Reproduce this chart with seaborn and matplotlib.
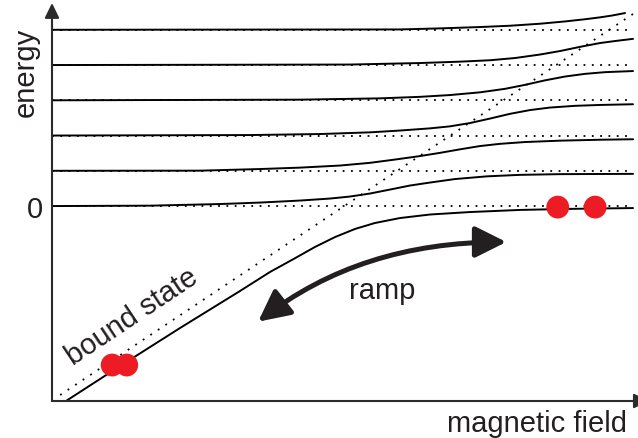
import numpy as np
import pandas as pd
import matplotlib
matplotlib.use("Agg")
import matplotlib.pyplot as plt
import seaborn as sns
from matplotlib.patches import FancyArrowPatch

# ---------------- data (field in arbitrary units 0-100, energy in level spacings) -------------
level_energy = [0, 1, 2, 3, 4, 5]
level_field = [0.0, 98.5]

bound_field = [1.4, 99.5]
bound_energy = [-5.36, 5.45]

state0_field = [2.40, 11.64, 21.92, 32.19, 37.33, 41.61, 45.03, 48.46, 51.88, 55.31,
                59.59, 64.73, 71.58, 80.14, 88.70, 99.49]
state0_energy = [-5.53, -4.54, -3.46, -2.41, -1.87, -1.48, -1.16, -0.88, -0.65, -0.48,
                 -0.34, -0.24, -0.17, -0.11, -0.08, -0.057]

state1_field = [0.0, 16.78, 28.77, 35.62, 42.47, 47.60, 51.03, 54.45, 57.88, 61.30,
                64.73, 69.01, 74.49, 80.14, 86.99, 99.49]
state1_energy = [0.0, 0.011, 0.057, 0.099, 0.156, 0.213, 0.27, 0.355, 0.468, 0.582,
                 0.667, 0.766, 0.843, 0.885, 0.905, 0.913]

state2_field = [0.0, 25.34, 35.62, 42.47, 49.32, 54.45, 58.73, 63.01, 66.44, 69.86,
                73.29, 76.71, 80.99, 86.99, 93.84, 99.49]
state2_energy = [1.0, 1.004, 1.05, 1.09, 1.149, 1.226, 1.319, 1.418, 1.509, 1.609,
                 1.702, 1.765, 1.816, 1.855, 1.881, 1.895]

state3_field = [0.0, 33.90, 45.89, 54.45, 59.59, 64.73, 68.15, 71.58, 75.0, 78.42,
                81.85, 85.27, 89.55, 93.84, 99.49]
state3_energy = [2.0, 2.014, 2.043, 2.091, 2.142, 2.204, 2.261, 2.355, 2.482, 2.616,
                 2.723, 2.794, 2.843, 2.868, 2.888]

state4_field = [0.0, 42.47, 56.16, 63.01, 68.15, 73.29, 77.57, 81.0, 84.42, 87.84,
                91.27, 94.69, 99.49]
state4_energy = [3.0, 3.018, 3.055, 3.098, 3.149, 3.226, 3.325, 3.438, 3.566, 3.674,
                 3.75, 3.798, 3.83]

state5_field = [0.0, 51.03, 63.01, 69.86, 75.0, 79.28, 83.56, 86.99, 90.41, 93.84,
                96.40, 99.49]
state5_energy = [4.0, 4.014, 4.057, 4.096, 4.136, 4.199, 4.298, 4.397, 4.516, 4.624,
                 4.681, 4.743]

state6_field = [0.0, 59.59, 66.44, 73.29, 78.42, 83.56, 87.84, 91.27, 93.84, 95.89, 98.12]
state6_energy = [5.0, 5.01, 5.04, 5.078, 5.115, 5.172, 5.237, 5.299, 5.353, 5.404, 5.475]

atoms_field = [10.3, 12.8, 86.6, 93.0]
atoms_energy = [-4.51, -4.51, -0.03, -0.03]

ramp_start = (35.3, -3.28)
ramp_end = (77.8, -1.02)

# ---------------- build tables ----------------
states = [(state0_field, state0_energy), (state1_field, state1_energy),
          (state2_field, state2_energy), (state3_field, state3_energy),
          (state4_field, state4_energy), (state5_field, state5_energy),
          (state6_field, state6_energy)]
df_states = pd.concat([pd.DataFrame({"field": f, "energy": e, "state": i})
                       for i, (f, e) in enumerate(states)], ignore_index=True)
df_levels = pd.concat([pd.DataFrame({"field": level_field, "energy": [lv, lv], "level": i})
                       for i, lv in enumerate(level_energy)], ignore_index=True)
df_bound = pd.DataFrame({"field": bound_field, "energy": bound_energy})
df_atoms = pd.DataFrame({"field": atoms_field, "energy": atoms_energy})

# ---------------- style ----------------
sns.set_theme(style="white")
plt.rcParams["font.family"] = ["Liberation Sans", "DejaVu Sans"]
TXT = "#231F20"
FS = 21

W, H = 638, 439
fig = plt.figure(figsize=(W / 100, H / 100), dpi=100)
ax = fig.add_axes([52 / W, 37 / H, 584 / W, 398 / H])

dots = (0, (1, 3.6))
sns.lineplot(data=df_levels, x="field", y="energy", units="level", estimator=None,
             sort=False, color="black", lw=1.3, linestyle=dots, ax=ax)
sns.lineplot(data=df_bound, x="field", y="energy", estimator=None, sort=False,
             color="black", lw=1.3, linestyle=(0, (1, 4.0)), ax=ax)
sns.lineplot(data=df_states, x="field", y="energy", units="state", estimator=None,
             sort=False, color="black", lw=1.4, solid_joinstyle="round", ax=ax)
sns.scatterplot(data=df_atoms, x="field", y="energy", s=270, color="#ED1C24",
                edgecolor="none", zorder=5, ax=ax)

ax.set_xlim(0, 100)
ax.set_ylim(-5.53, 5.76)
for s in ax.spines.values():
    s.set_visible(False)
ax.set_xticks([])
ax.set_yticks([0])
ax.set_yticklabels(["0"])
ax.tick_params(axis="y", length=0, pad=6.5, labelsize=FS, labelcolor=TXT)

ax.set_ylabel("energy", fontsize=FS, color=TXT, ha="center", va="center")
ax.yaxis.set_label_coords(-0.0445, 0.829)
ax.set_xlabel("magnetic field", fontsize=FS, color=TXT, ha="right", va="baseline")
ax.xaxis.set_label_coords(0.985, -0.0754)

# axis arrows
arrow_kw = dict(arrowstyle="-|>,head_length=0.45,head_width=0.22", mutation_scale=20,
                lw=1.5, color="#2b2b2b", shrinkA=0, shrinkB=0)
ax.annotate("", xy=(0, 1), xytext=(0, 0), xycoords="axes fraction",
            arrowprops=arrow_kw, annotation_clip=False)
ax.annotate("", xy=(1.022, 0), xytext=(0, 0), xycoords="axes fraction",
            arrowprops=arrow_kw, annotation_clip=False)

# ramp arrow
ramp = FancyArrowPatch(ramp_start, ramp_end,
                       arrowstyle="<|-|>,head_length=19,head_width=9.5", mutation_scale=1,
                       connectionstyle="angle3,angleA=38,angleB=0",
                       lw=3.6, color=TXT, shrinkA=0, shrinkB=0, zorder=4)
ax.add_patch(ramp)

ax.text(56.5, -2.61, "ramp", fontsize=FS, color=TXT, ha="center", va="baseline")
ax.text(3.6, -4.51, "bound state", fontsize=FS, color=TXT, rotation=33.7,
        rotation_mode="anchor", ha="left", va="baseline")

fig.savefig("out.png", dpi=100)
